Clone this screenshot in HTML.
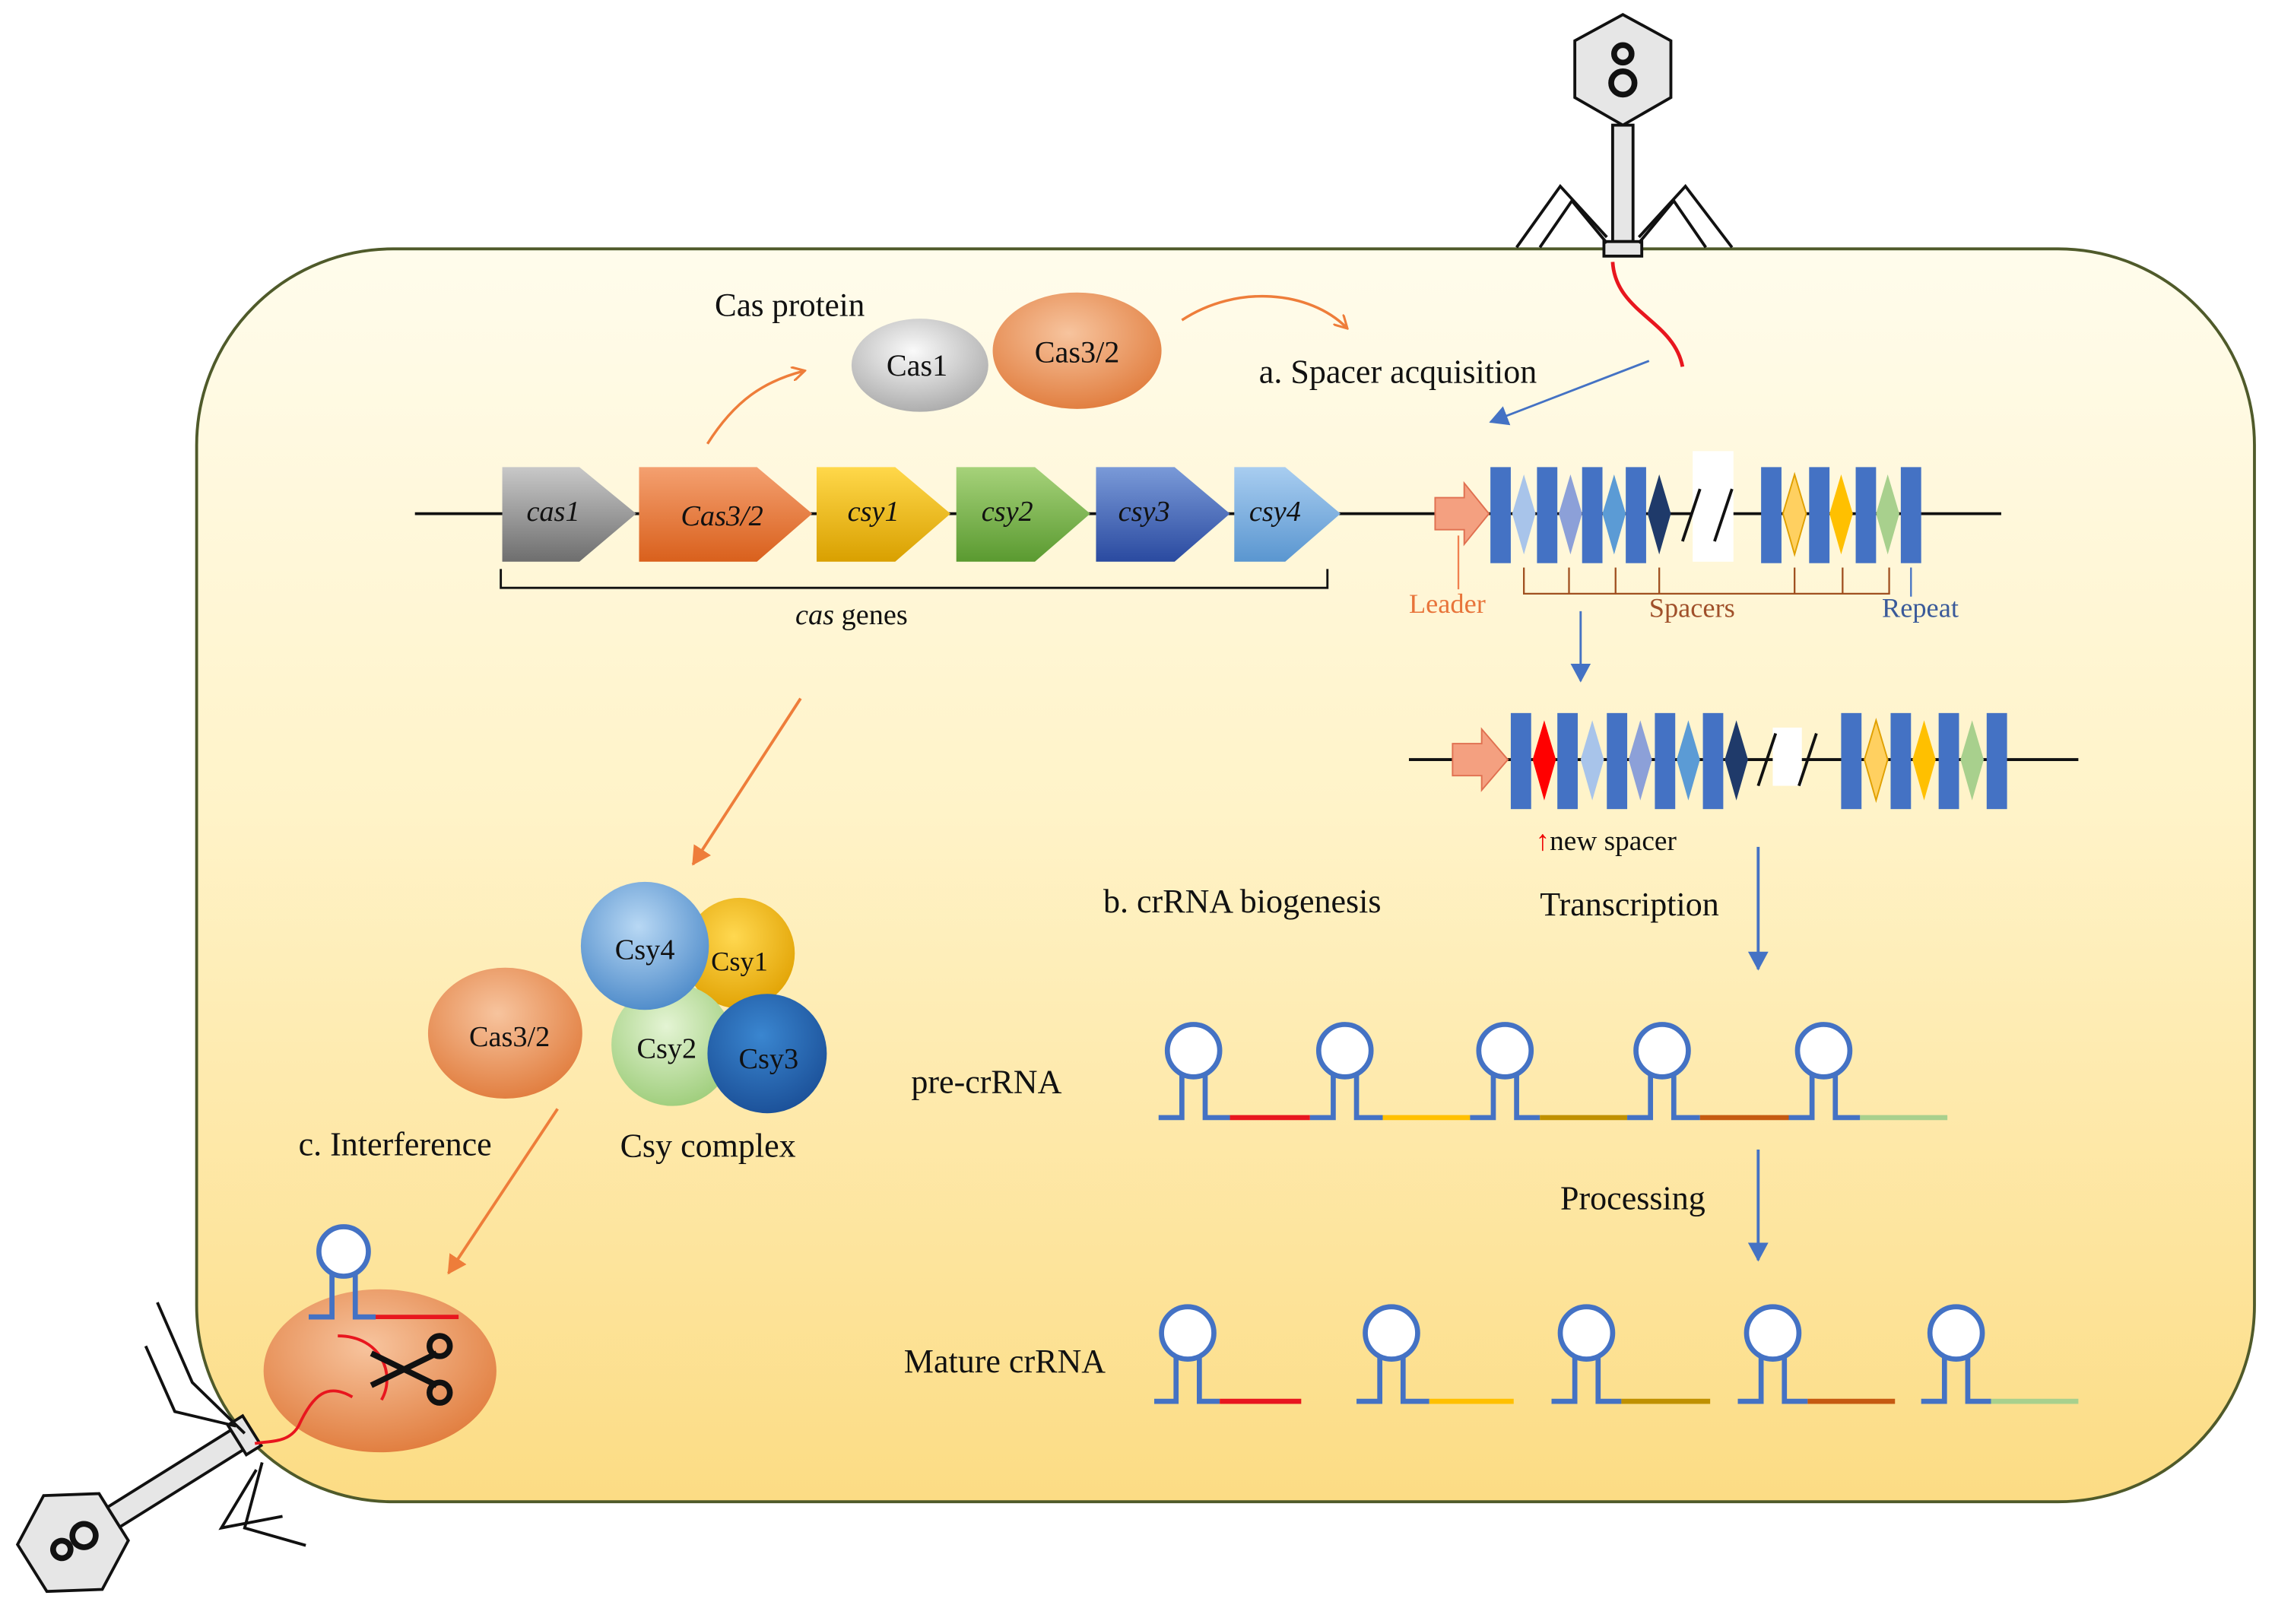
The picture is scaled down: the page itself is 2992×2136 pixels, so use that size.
<!DOCTYPE html>
<html><head><meta charset="utf-8"><style>
html,body{margin:0;padding:0;background:#fff}
svg{display:block}
text{font-family:"Liberation Serif",serif;fill:#111}
</style></head><body>
<svg width="2992" height="2136" viewBox="0 0 1563 1116" xmlns="http://www.w3.org/2000/svg">
<defs>
<linearGradient id="cell" x1="0" y1="0" x2="0" y2="1">
<stop offset="0" stop-color="#fffcec"/><stop offset="0.45" stop-color="#fff3c8"/><stop offset="1" stop-color="#fcdc84"/></linearGradient>
<linearGradient id="g1" x1="0" y1="0" x2="0" y2="1"><stop offset="0" stop-color="#c8c8c8"/><stop offset="1" stop-color="#6e6e6e"/></linearGradient>
<linearGradient id="g2" x1="0" y1="0" x2="0" y2="1"><stop offset="0" stop-color="#f4a070"/><stop offset="1" stop-color="#d9601c"/></linearGradient>
<linearGradient id="g3" x1="0" y1="0" x2="0" y2="1"><stop offset="0" stop-color="#ffd84a"/><stop offset="1" stop-color="#d9a000"/></linearGradient>
<linearGradient id="g4" x1="0" y1="0" x2="0" y2="1"><stop offset="0" stop-color="#a6d27a"/><stop offset="1" stop-color="#5a9a30"/></linearGradient>
<linearGradient id="g5" x1="0" y1="0" x2="0" y2="1"><stop offset="0" stop-color="#7a9ad8"/><stop offset="1" stop-color="#2a4aa0"/></linearGradient>
<linearGradient id="g6" x1="0" y1="0" x2="0" y2="1"><stop offset="0" stop-color="#a8cdf0"/><stop offset="1" stop-color="#5a96d0"/></linearGradient>
<radialGradient id="rg" cx="0.45" cy="0.35" r="0.7"><stop offset="0" stop-color="#fafafa"/><stop offset="1" stop-color="#a8a8a8"/></radialGradient>
<radialGradient id="ro" cx="0.45" cy="0.35" r="0.7"><stop offset="0" stop-color="#f7c49e"/><stop offset="1" stop-color="#e07a3a"/></radialGradient>
<radialGradient id="rb" cx="0.45" cy="0.35" r="0.7"><stop offset="0" stop-color="#b8d8f4"/><stop offset="1" stop-color="#4a88c8"/></radialGradient>
<radialGradient id="ry" cx="0.45" cy="0.35" r="0.7"><stop offset="0" stop-color="#ffd850"/><stop offset="1" stop-color="#e0a000"/></radialGradient>
<radialGradient id="rgr" cx="0.45" cy="0.35" r="0.7"><stop offset="0" stop-color="#e4f4d4"/><stop offset="1" stop-color="#9ccc78"/></radialGradient>
<radialGradient id="rdb" cx="0.45" cy="0.35" r="0.7"><stop offset="0" stop-color="#3a86d0"/><stop offset="1" stop-color="#1a4e96"/></radialGradient>
<marker id="ao" markerWidth="10" markerHeight="10" refX="8" refY="5" orient="auto" markerUnits="userSpaceOnUse"><path d="M0,0 L9,5 L0,10" fill="none" stroke="#ee7d3a" stroke-width="1.6"/></marker>
<marker id="aof" markerWidth="14" markerHeight="14" refX="12" refY="7" orient="auto" markerUnits="userSpaceOnUse"><path d="M0,0 L13,7 L0,14 Z" fill="#ee7d3a"/></marker>
<marker id="ab" markerWidth="14" markerHeight="14" refX="12" refY="7" orient="auto" markerUnits="userSpaceOnUse"><path d="M0,0 L13,7 L0,14 Z" fill="#4472c4"/></marker>
</defs>

<rect x="135" y="171" width="1414" height="861" rx="135" fill="url(#cell)" stroke="#4f5a2a" stroke-width="2"/>

<!-- top phage -->
<polygon points="1115,10 1148,28 1148,67 1115,86 1082,67 1082,28" fill="#e6e6e6" stroke="#111" stroke-width="2"/>
<g fill="none" stroke="#111" stroke-width="4"><circle cx="1115" cy="37" r="6"/><circle cx="1115" cy="57" r="8"/></g>
<rect x="1108" y="86" width="14" height="80" fill="#e6e6e6" stroke="#111" stroke-width="2"/>
<rect x="1102" y="166" width="26" height="10" fill="#e6e6e6" stroke="#111" stroke-width="2"/>
<g stroke="#111" stroke-width="2" fill="none">
<polyline points="1104,163 1072,128 1042,170"/><polyline points="1104,167 1080,138 1058,170"/>
<polyline points="1126,163 1158,128 1190,170"/><polyline points="1126,167 1150,138 1172,170"/>
</g>
<path d="M1108,180 C1110,215 1150,220 1156,252" stroke="#e8161e" stroke-width="2.5" fill="none"/>

<!-- bottom-left phage -->
<g transform="translate(50,1060) rotate(-32)">
<polygon points="0,-38 33,-19 33,19 0,38 -33,19 -33,-19" fill="#e6e6e6" stroke="#111" stroke-width="2"/>
<rect x="33" y="-8" width="100" height="16" fill="#e6e6e6" stroke="#111" stroke-width="2"/>
<rect x="133" y="-12" width="12" height="24" fill="#e6e6e6" stroke="#111" stroke-width="2"/>
<g fill="none" stroke="#111" stroke-width="4"><circle cx="-9" cy="0" r="6"/><circle cx="9" cy="0" r="8"/></g>
</g>
<g stroke="#111" stroke-width="2" fill="none">
<polyline points="168,985 132,950 108,895"/><polyline points="162,980 120,970 100,925"/>
<polyline points="180,1005 168,1050 210,1062"/><polyline points="176,1010 152,1050 194,1042"/>
</g>

<!-- Cas proteins -->
<text x="491" y="217" font-size="22.5">Cas protein</text>
<ellipse cx="632" cy="251" rx="47" ry="32" fill="url(#rg)"/>
<text x="630" y="258" font-size="21" text-anchor="middle">Cas1</text>
<ellipse cx="740" cy="241" rx="58" ry="40" fill="url(#ro)"/>
<text x="740" y="249" font-size="21" text-anchor="middle">Cas3/2</text>
<path d="M486,305 C505,275 525,262 552,255" stroke="#ee7d3a" stroke-width="1.8" fill="none" marker-end="url(#ao)"/>
<path d="M812,220 C850,195 900,200 925,225" stroke="#ee7d3a" stroke-width="1.8" fill="none" marker-end="url(#ao)"/>
<text x="865" y="263" font-size="23">a. Spacer acquisition</text>
<line x1="1133" y1="248" x2="1024" y2="290" stroke="#4472c4" stroke-width="1.5" marker-end="url(#ab)"/>

<line x1="285" y1="353" x2="1020" y2="353" stroke="#111" stroke-width="2"/>
<polygon points="345,321 398,321 437,353 398,386 345,386" fill="url(#g1)"/>
<text x="380" y="358" font-size="20" font-style="italic" text-anchor="middle">cas1</text>
<polygon points="439,321 520,321 558,353 520,386 439,386" fill="url(#g2)"/>
<text x="496" y="361" font-size="20" font-style="italic" text-anchor="middle">Cas3/2</text>
<polygon points="561,321 615,321 653,353 615,386 561,386" fill="url(#g3)"/>
<text x="600" y="358" font-size="20" font-style="italic" text-anchor="middle">csy1</text>
<polygon points="657,321 711,321 749,353 711,386 657,386" fill="url(#g4)"/>
<text x="692" y="358" font-size="20" font-style="italic" text-anchor="middle">csy2</text>
<polygon points="753,321 807,321 845,353 807,386 753,386" fill="url(#g5)"/>
<text x="786" y="358" font-size="20" font-style="italic" text-anchor="middle">csy3</text>
<polygon points="848,321 883,321 921,353 883,386 848,386" fill="url(#g6)"/>
<text x="876" y="358" font-size="20" font-style="italic" text-anchor="middle">csy4</text>
<path d="M344,391 L344,404 L912,404 L912,391" stroke="#111" stroke-width="1.5" fill="none"/>
<text x="585" y="429" font-size="20" text-anchor="middle"><tspan font-style="italic">cas</tspan> genes</text>

<!-- CRISPR array 1 -->
<line x1="1020" y1="353" x2="1375" y2="353" stroke="#111" stroke-width="2"/>
<polygon points="986,342 1006,342 1006,332 1023,353 1006,374 1006,364 986,364" fill="#f4a080" stroke="#e07050"/>
<g fill="#4472c4">
<rect x="1024" y="321" width="14" height="66"/><rect x="1056" y="321" width="14" height="66"/><rect x="1087" y="321" width="14" height="66"/><rect x="1117" y="321" width="14" height="66"/>
<rect x="1210" y="321" width="14" height="66"/><rect x="1243" y="321" width="14" height="66"/><rect x="1275" y="321" width="14" height="66"/><rect x="1306" y="321" width="14" height="66"/>
</g>
<polygon points="1047,326 1055,353 1047,381 1039,353" fill="#a8c4ea"/>
<polygon points="1079,326 1087,353 1079,381 1071,353" fill="#8ca0d8"/>
<polygon points="1109,326 1117,353 1109,381 1101,353" fill="#5b9bd5"/>
<polygon points="1140,326 1148,353 1140,381 1132,353" fill="#1f3a6a"/>
<rect x="1163" y="310" width="28" height="76" fill="#fff"/>
<line x1="1156" y1="372" x2="1168" y2="336" stroke="#111" stroke-width="2"/><line x1="1178" y1="372" x2="1190" y2="336" stroke="#111" stroke-width="2"/>
<polygon points="1233,326 1241,353 1233,381 1225,353" fill="#ffd060" stroke="#e0a000"/>
<polygon points="1265,326 1273,353 1265,381 1257,353" fill="#ffc000"/>
<polygon points="1297,326 1305,353 1297,381 1289,353" fill="#a8d08d"/>
<path d="M1002,368 L1002,405" stroke="#f08050" stroke-width="1.2"/>
<text x="968" y="421" font-size="19" style="fill:#e8743a">Leader</text>
<path d="M1047,390 L1047,408 L1298,408 L1298,390 M1078,390 L1078,408 M1110,390 L1110,408 M1140,390 L1140,408 M1233,390 L1233,408 M1266,390 L1266,408" stroke="#a05020" stroke-width="1.2" fill="none"/>
<text x="1133" y="424" font-size="19" style="fill:#a0502a">Spacers</text>
<line x1="1313" y1="390" x2="1313" y2="410" stroke="#4472c4" stroke-width="1.2"/>
<text x="1293" y="424" font-size="19" style="fill:#3a5a9a">Repeat</text>
<line x1="1086" y1="420" x2="1086" y2="468" stroke="#4472c4" stroke-width="1.5" marker-end="url(#ab)"/>

<!-- CRISPR array 2 -->
<line x1="968" y1="522" x2="1428" y2="522" stroke="#111" stroke-width="2"/>
<polygon points="998,511 1018,511 1018,501 1036,522 1018,543 1018,533 998,533" fill="#f4a080" stroke="#e07050"/>
<g fill="#4472c4">
<rect x="1038" y="490" width="14" height="66"/><rect x="1070" y="490" width="14" height="66"/><rect x="1104" y="490" width="14" height="66"/><rect x="1137" y="490" width="14" height="66"/><rect x="1170" y="490" width="14" height="66"/>
<rect x="1265" y="490" width="14" height="66"/><rect x="1299" y="490" width="14" height="66"/><rect x="1332" y="490" width="14" height="66"/><rect x="1365" y="490" width="14" height="66"/>
</g>
<polygon points="1061,495 1069,522 1061,550 1053,522" fill="#ff0000"/>
<polygon points="1094,495 1102,522 1094,550 1086,522" fill="#a8c4ea"/>
<polygon points="1127,495 1135,522 1127,550 1119,522" fill="#8ca0d8"/>
<polygon points="1160,495 1168,522 1160,550 1152,522" fill="#5b9bd5"/>
<polygon points="1193,495 1201,522 1193,550 1185,522" fill="#1f3a6a"/>
<rect x="1218" y="500" width="20" height="40" fill="#fff"/>
<line x1="1208" y1="540" x2="1220" y2="504" stroke="#111" stroke-width="2"/><line x1="1236" y1="540" x2="1248" y2="504" stroke="#111" stroke-width="2"/>
<polygon points="1289,495 1297,522 1289,550 1281,522" fill="#ffd060" stroke="#e0a000"/>
<polygon points="1322,495 1330,522 1322,550 1314,522" fill="#ffc000"/>
<polygon points="1355,495 1363,522 1355,550 1347,522" fill="#a8d08d"/>
<text x="1055" y="584" font-size="19.5"><tspan style="fill:#e00">↑</tspan>new spacer</text>

<text x="758" y="627" font-size="23">b. crRNA biogenesis</text>
<text x="1058" y="629" font-size="23">Transcription</text>
<line x1="1208" y1="582" x2="1208" y2="666" stroke="#4472c4" stroke-width="2" marker-end="url(#ab)"/>
<text x="626" y="751" font-size="23">pre-crRNA</text>
<g fill="none" stroke-width="3.5">
<path d="M796,768 L812,768 L812,738 M828,738 L828,768 L845,768" stroke="#4472c4"/>
<circle cx="820" cy="722" r="18" stroke="#4472c4" fill="#fff"/>
<line x1="845" y1="768" x2="900" y2="768" stroke="#e8161e"/>
<path d="M900,768 L916,768 L916,738 M932,738 L932,768 L950,768" stroke="#4472c4"/>
<circle cx="924" cy="722" r="18" stroke="#4472c4" fill="#fff"/>
<line x1="950" y1="768" x2="1010" y2="768" stroke="#ffc000"/>
<path d="M1010,768 L1026,768 L1026,738 M1042,738 L1042,768 L1058,768" stroke="#4472c4"/>
<circle cx="1034" cy="722" r="18" stroke="#4472c4" fill="#fff"/>
<line x1="1058" y1="768" x2="1118" y2="768" stroke="#bf9000"/>
<path d="M1118,768 L1134,768 L1134,738 M1150,738 L1150,768 L1168,768" stroke="#4472c4"/>
<circle cx="1142" cy="722" r="18" stroke="#4472c4" fill="#fff"/>
<line x1="1168" y1="768" x2="1229" y2="768" stroke="#c55a11"/>
<path d="M1229,768 L1245,768 L1245,738 M1261,738 L1261,768 L1278,768" stroke="#4472c4"/>
<circle cx="1253" cy="722" r="18" stroke="#4472c4" fill="#fff"/>
<line x1="1278" y1="768" x2="1338" y2="768" stroke="#a8d08d"/>
</g>
<text x="1072" y="831" font-size="23">Processing</text>
<line x1="1208" y1="790" x2="1208" y2="866" stroke="#4472c4" stroke-width="2" marker-end="url(#ab)"/>
<text x="621" y="943" font-size="23">Mature crRNA</text>
<g fill="none" stroke-width="3.5">
<path d="M793,963 L808,963 L808,932 M824,932 L824,963 L838,963" stroke="#4472c4"/>
<circle cx="816" cy="916" r="18" stroke="#4472c4" fill="#fff"/>
<line x1="838" y1="963" x2="894" y2="963" stroke="#e8161e"/>
<path d="M932,963 L948,963 L948,932 M964,932 L964,963 L982,963" stroke="#4472c4"/>
<circle cx="956" cy="916" r="18" stroke="#4472c4" fill="#fff"/>
<line x1="982" y1="963" x2="1040" y2="963" stroke="#ffc000"/>
<path d="M1066,963 L1082,963 L1082,932 M1098,932 L1098,963 L1114,963" stroke="#4472c4"/>
<circle cx="1090" cy="916" r="18" stroke="#4472c4" fill="#fff"/>
<line x1="1114" y1="963" x2="1175" y2="963" stroke="#bf9000"/>
<path d="M1194,963 L1210,963 L1210,932 M1226,932 L1226,963 L1242,963" stroke="#4472c4"/>
<circle cx="1218" cy="916" r="18" stroke="#4472c4" fill="#fff"/>
<line x1="1242" y1="963" x2="1302" y2="963" stroke="#c55a11"/>
<path d="M1320,963 L1336,963 L1336,932 M1352,932 L1352,963 L1368,963" stroke="#4472c4"/>
<circle cx="1344" cy="916" r="18" stroke="#4472c4" fill="#fff"/>
<line x1="1368" y1="963" x2="1428" y2="963" stroke="#a8d08d"/>
</g>

<line x1="550" y1="480" x2="476" y2="594" stroke="#ee7d3a" stroke-width="2" marker-end="url(#aof)"/>
<circle cx="508" cy="655" r="38" fill="url(#ry)"/>
<circle cx="462" cy="718" r="42" fill="url(#rgr)"/>
<circle cx="443" cy="650" r="44" fill="url(#rb)"/>
<circle cx="527" cy="724" r="41" fill="url(#rdb)"/>
<text x="443" y="659" font-size="20" text-anchor="middle">Csy4</text>
<text x="508" y="667" font-size="19" text-anchor="middle">Csy1</text>
<text x="458" y="727" font-size="20" text-anchor="middle">Csy2</text>
<text x="528" y="734" font-size="20" text-anchor="middle">Csy3</text>
<ellipse cx="347" cy="710" rx="53" ry="45" fill="url(#ro)"/>
<text x="350" y="719" font-size="20" text-anchor="middle">Cas3/2</text>
<text x="205" y="794" font-size="23">c. Interference</text>
<text x="426" y="795" font-size="23">Csy complex</text>
<line x1="383" y1="762" x2="308" y2="875" stroke="#ee7d3a" stroke-width="2" marker-end="url(#aof)"/>

<ellipse cx="261" cy="942" rx="80" ry="56" fill="url(#ro)"/>
<path d="M212,905 L228,905 L228,876 M244,876 L244,905 L258,905" stroke="#4472c4" stroke-width="3.5" fill="none"/>
<circle cx="236" cy="860" r="17" stroke="#4472c4" stroke-width="3.5" fill="#fff"/>
<line x1="258" y1="905" x2="315" y2="905" stroke="#e8161e" stroke-width="3"/>
<path d="M232,918 C262,918 272,945 262,962" stroke="#e8161e" stroke-width="2" fill="none"/>
<path d="M242,960 C225,950 215,958 205,980 C198,992 185,990 175,992" stroke="#e8161e" stroke-width="2" fill="none"/>
<g stroke="#111" stroke-width="4" fill="none">
<line x1="255" y1="930" x2="300" y2="952"/><line x1="255" y1="952" x2="300" y2="930"/>
<circle cx="302" cy="925" r="7"/><circle cx="302" cy="957" r="7"/>
</g>
</svg>
</body></html>
